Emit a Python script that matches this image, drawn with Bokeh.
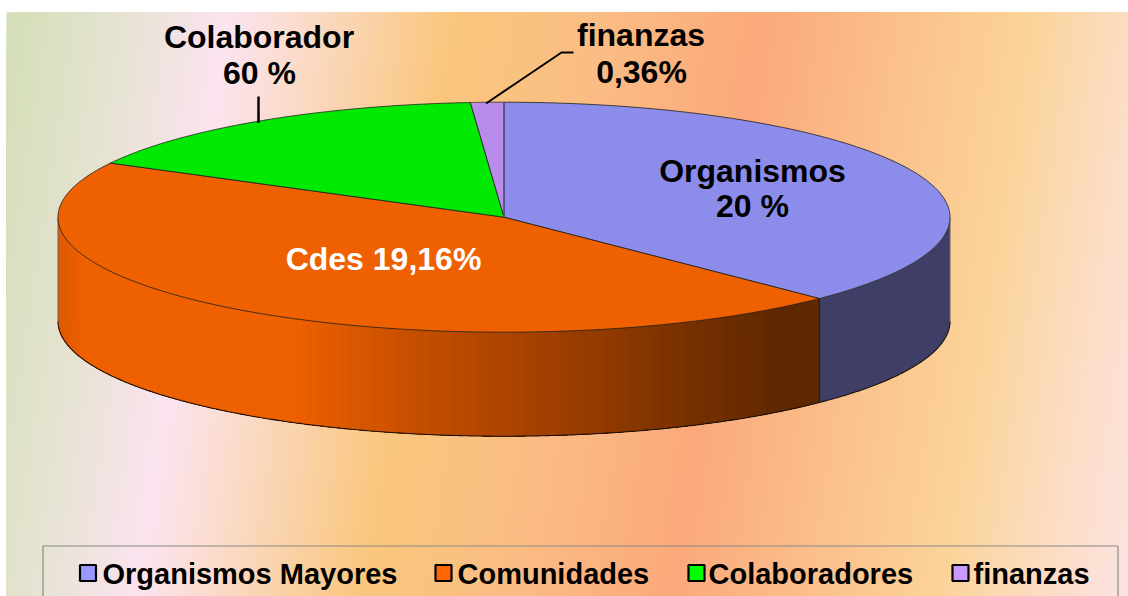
import numpy as np
from bokeh.plotting import figure
from bokeh.models import Range1d
from bokeh.embed import file_html
from bokeh.resources import INLINE

# ---- data
categories = ["Organismos Mayores", "Comunidades", "Colaboradores", "finanzas"]
shares = [37.5, 45.3, 16.0, 1.2]

# ---- styles and layout
top_colors = ["#8C8CEB", "#EE6000", "#00E900", "#B98CEB"]
legend_colors = ["#9999FF", "#FF6600", "#00FF00", "#CC99FF"]
legend_marker_x = [87.5, 443, 696, 960]
legend_text_x = [102, 457, 708, 973]
CX, CY, RX, RY, DEPTH = 503.5, 216.7, 446.0, 115.0, 104.0
FONT = "Liberation Sans"

W, H = 1128, 596
p = figure(width=W, height=H, x_range=Range1d(0, W), y_range=Range1d(H, 0),
           x_axis_type=None, y_axis_type=None, toolbar_location=None,
           output_backend="svg", min_border=0, outline_line_color=None,
           background_fill_color="white", border_fill_color="white")
p.grid.visible = False


def hex_rgb(c):
    return np.array([int(c[i:i + 2], 16) for i in (1, 3, 5)], float)


def mix(x, stops_x, stops_rgb):
    return "#%02X%02X%02X" % tuple(int(np.interp(x, stops_x, stops_rgb[:, k])) for k in range(3))


# ---- background gradient (slanted bands painted left to right)
bg_u = [0, 120, 227, 300, 450, 600, 760, 900, 1030, 1130, 1215, 1300]
bg_c = ["#D3DFB6", "#E6E3D2", "#FCE4F0", "#FBDCCB", "#FAC77E", "#FBBD84", "#FCA97C",
        "#FBC08C", "#FBD49A", "#FCDDC4", "#FDE3E0", "#FDE3E0"]
bg_rgb = np.array([hex_rgb(c) for c in bg_c])
SLANT = 0.155 * (596 - 12)
bg_left, bg_right = 6.0, 1128.0
bxs, bys, bcs = [], [], []
for uu in np.arange(bg_left, bg_right + SLANT, 3.0):
    x_bot = max(uu - SLANT, bg_left)
    # a band reaches the right edge; the next band paints over it
    if uu == bg_left:
        bxs.append([bg_left, bg_right, bg_right, bg_left])
        bys.append([12, 12, 596, 596])
    else:
        # left edge follows the slant, clipped at the chart's left side
        y_hit = 12 + (uu - bg_left) / 0.155
        if y_hit < 596:
            bxs.append([uu, bg_right + 400, bg_right + 400, bg_left, bg_left])
            bys.append([12, 12, 596, 596, y_hit])
        else:
            bxs.append([uu, bg_right + 400, bg_right + 400, x_bot])
            bys.append([12, 12, 596, 596])
    bcs.append(mix(uu, bg_u, bg_rgb))
p.patches(bxs, bys, fill_color=bcs, line_color=None)


# ---- pie geometry from the shares
def ex(t):
    return CX + RX * np.sin(t)


def ey(t):
    return CY - RY * np.cos(t)


fr = np.array(shares, float) / sum(shares) * 2 * np.pi
starts = np.concatenate([[0], np.cumsum(fr)[:-1]])
ends = np.cumsum(fr)

# ---- side walls: the visible lower half of the rim
wall_stops_x = [57, 85, 300, 420, 560, 700, 790, 950]
wall_stops_c = ["#DD5900", "#EE6000", "#EE6000", "#C64F00", "#A03F00", "#763000", "#5F2800", "#5F2800"]
wall_rgb = np.array([hex_rgb(c) for c in wall_stops_c])
wxs, wys, wcs = [], [], []
for i, (a, b) in enumerate(zip(starts, ends)):
    lo, hi = max(a, np.pi / 2), min(b, 3 * np.pi / 2)
    if hi <= lo:
        continue
    if i == 0:
        tt = np.linspace(lo, hi, 120)
        wxs.append(list(ex(tt)) + list(ex(tt[::-1])))
        wys.append(list(ey(tt)) + list(ey(tt[::-1]) + DEPTH))
        wcs.append("#3E3E66")
        continue
    # each strip runs on to the far end so that the next one covers the join
    edges = np.linspace(lo, hi, 90)
    for t0 in edges[:-1]:
        tt = np.linspace(t0, hi, 80)
        wxs.append(list(ex(tt)) + list(ex(tt[::-1])))
        wys.append(list(ey(tt)) + list(ey(tt[::-1]) + DEPTH))
        wcs.append(mix(ex(t0), wall_stops_x, wall_rgb))
p.patches(wxs, wys, fill_color=wcs, line_color=None)

# rim lines of the walls
rim = np.linspace(np.pi / 2, 3 * np.pi / 2, 400)
p.line(ex(rim), ey(rim) + DEPTH, line_color="#1A1008", line_width=1.1)
p.segment([CX - RX, CX + RX], [CY, CY], [CX - RX, CX + RX], [CY + DEPTH, CY + DEPTH],
          line_color="#6E6258", line_width=1.0)
tb = ends[0]
p.segment([ex(tb)], [ey(tb)], [ex(tb)], [ey(tb) + DEPTH], line_color="#2A1A0A", line_width=1.2)

# ---- top faces
txs, tys = [], []
for a, b in zip(starts, ends):
    tt = np.linspace(a, b, 200)
    txs.append([CX] + list(ex(tt)))
    tys.append([CY] + list(ey(tt)))
p.patches(txs, tys, fill_color=top_colors, line_color="#20201C", line_width=0.8)
p.segment([CX], [ey(0.0)], [CX], [CY], line_color="#55558F", line_width=1.6)

# ---- leader lines
p.segment([258], [96], [258], [122.5], line_color="black", line_width=2.5)
p.line([485.5, 561, 573], [103, 52, 52], line_color="black", line_width=2)


# ---- data labels
def label(x, y, text, color="black", size="32px"):
    p.text([x], [y], text=[text], text_color=color, text_font={"value": FONT},
           text_font_style="bold", text_font_size=size, text_align="center",
           text_baseline="alphabetic")


label(258.5, 36, "Colaborador")
label(259, 72, "60 %")
label(640.5, 34, "finanzas")
label(641, 71, "0,36%")
label(752, 170, "Organismos")
label(752, 205, "20 %")
label(383, 258, "Cdes 19,16%", color="white")

# ---- legend
p.line([42.5, 42.5, 1117.5, 1117.5], [600, 545.5, 545.5, 600], line_color="#8A8A84", line_width=1.2)
p.scatter(legend_marker_x, [572.5] * 4, marker="square", size=16, fill_color=legend_colors,
          line_color="black", line_width=2.2)
p.text(legend_text_x, [573] * 4, text=categories, text_color="black", text_font={"value": FONT},
       text_font_style="bold", text_font_size="29px", text_align="left", text_baseline="alphabetic")

open("out.html", "w").write(file_html(p, INLINE))
